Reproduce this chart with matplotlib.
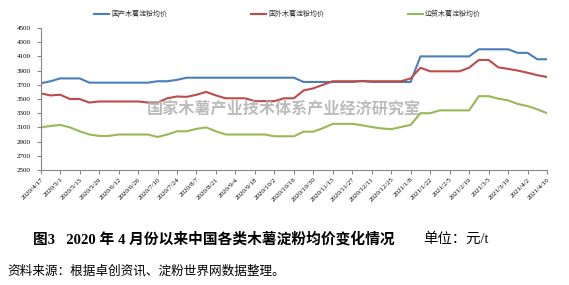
import matplotlib
matplotlib.use("Agg")
import matplotlib.pyplot as plt
import numpy as np

tick_labels = ["2020/4/17", "2020/5/1", "2020/5/15", "2020/5/29", "2020/6/12", "2020/6/26",
               "2020/7/10", "2020/7/24", "2020/8/7", "2020/8/21", "2020/9/4", "2020/9/18",
               "2020/10/2", "2020/10/16", "2020/10/30", "2020/11/13", "2020/11/27", "2020/12/11",
               "2020/12/25", "2021/1/8", "2021/1/22", "2021/2/5", "2021/2/19", "2021/3/5",
               "2021/3/19", "2021/4/2", "2021/4/16"]

domestic = [3720, 3750, 3790, 3790, 3790, 3730, 3730, 3730, 3730, 3730, 3730, 3730, 3750, 3750, 3770, 3800,
            3800, 3800, 3800, 3800, 3800, 3800, 3800, 3800, 3800, 3800, 3800,
            3740, 3740, 3740, 3740, 3740, 3740, 3755, 3740, 3740, 3740, 3740, 3740,
            4100, 4100, 4100, 4100, 4100, 4100, 4200, 4200, 4200, 4200, 4150, 4150, 4060, 4060]
foreign = [3580, 3550, 3560, 3500, 3500, 3450, 3465, 3465, 3465, 3465, 3465, 3450, 3450, 3510, 3535, 3530,
           3560, 3600, 3550, 3510, 3510, 3510, 3470, 3470, 3470, 3510, 3510,
           3620, 3650, 3700, 3750, 3750, 3750, 3750, 3750, 3750, 3750, 3750, 3790,
           3940, 3890, 3890, 3890, 3890, 3940, 4050, 4050, 3945, 3925, 3900, 3870, 3835, 3810]
border = [3100, 3120, 3135, 3100, 3045, 3000, 2980, 2980, 3000, 3000, 3000, 3000, 2965, 3000, 3045, 3045,
          3080, 3100, 3045, 3000, 3000, 3000, 3000, 3000, 2975, 2975, 2975,
          3040, 3040, 3090, 3150, 3150, 3150, 3130, 3105, 3085, 3075, 3105, 3135,
          3300, 3300, 3340, 3340, 3340, 3340, 3540, 3540, 3505, 3480, 3430, 3400, 3355, 3300]

series_names = ["国产木薯淀粉均价", "国外木薯淀粉均价", "边贸木薯淀粉均价"]
colors = ["#4A7EBB", "#BE4B48", "#98B954"]

plt.rcParams['font.family'] = ['Liberation Serif', 'Noto Sans CJK SC']

fig = plt.figure(figsize=(5.69, 2.85), dpi=100)
ax = fig.add_axes([40.7 / 569, 1 - 170 / 285, (547 - 40.7) / 569, (170 - 28) / 285])

x = np.arange(len(domestic))
for vals, name, c in zip([domestic, foreign, border], series_names, colors):
    ax.plot(x, vals, color=c, lw=1.5, label=name, solid_joinstyle='round')

ax.set_xlim(0, len(domestic) - 1)
ax.set_ylim(2500, 4500)
ax.set_yticks(np.arange(2500, 4501, 200))
ax.set_xticks(np.arange(0, len(domestic), 2))
ax.set_xticklabels(tick_labels, rotation=45, ha='right', rotation_mode='anchor', fontsize=5)
ax.tick_params(axis='y', labelsize=5, length=3, color='#868686', width=0.8, pad=4)
ax.tick_params(axis='x', length=3, color='#868686', width=0.8, pad=2)
for s in ['top', 'right']:
    ax.spines[s].set_visible(False)
for s in ['left', 'bottom']:
    ax.spines[s].set_color('#868686')
    ax.spines[s].set_linewidth(0.8)

leg = fig.legend(loc='center', bbox_to_anchor=(287.5 / 569, 1 - 14 / 285), ncol=3, frameon=False,
                 handlelength=2.2, handletextpad=0.3, columnspacing=12,
                 prop={'family': ['Noto Sans CJK SC'], 'size': 5})
for t in leg.get_texts():
    t.set_color('#333333')

fig.text(284 / 569, 1 - 109 / 285, "国家木薯产业技术体系产业经济研究室", ha='center', va='center',
         fontsize=11.6, fontweight='bold', color='#b0b0b0', alpha=0.85,
         family=['Noto Sans CJK SC'])

fig.text(33 / 569, 1 - 239 / 285, "图3   2020 年 4 月份以来中国各类木薯淀粉均价变化情况",
         ha='left', va='center', fontsize=10.6, fontweight='bold')
fig.text(423 / 569, 1 - 239 / 285, "单位：元/t", ha='left', va='center', fontsize=10.4)
fig.text(7 / 569, 1 - 271 / 285, "资料来源：根据卓创资讯、淀粉世界网数据整理。",
         ha='left', va='center', fontsize=9.1)

fig.savefig("out.png", dpi=100)
